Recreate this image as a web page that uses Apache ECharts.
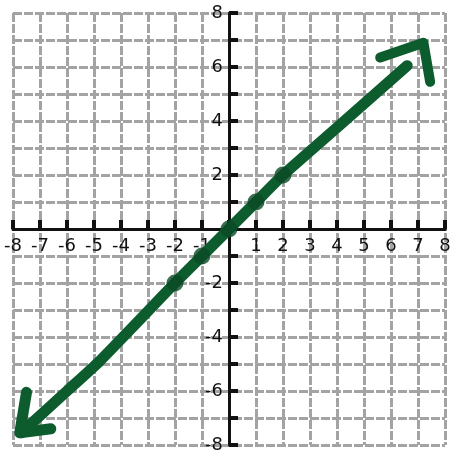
<!DOCTYPE html>
<html>
<head>
<meta charset="utf-8">
<script src="https://cdn.jsdelivr.net/npm/echarts@6/dist/echarts.min.js"></script>
<style>
  html, body { margin: 0; padding: 0; background: #fff; }
  #chart { width: 452px; height: 457px; }
</style>
</head>
<body>
<div id="chart"></div>
<script>
// hand drawn line y = x
const lineX = [-7.7, -6.0, -4.8, -2, -1, 0, 1, 2, 4.05, 6.6];
const lineY = [-7.55, -6.0, -4.9, -2, -1, 0, 1, 2, 3.8, 6.05];
// plotted points
const pointX = [-2, -1, 0, 1, 2];
const pointY = [-2, -1, 0, 1, 2];
// arrow heads (three points each)
const upArrowX = [5.6, 7.2, 7.45];
const upArrowY = [6.35, 6.9, 5.45];
const downArrowX = [-7.5, -7.75, -6.6];
const downArrowY = [-6.05, -7.55, -7.4];
// axis range
const axisMin = -8;
const axisMax = 8;

const green = "#0c5c2e";
const zip = (xs, ys) => xs.map((x, i) => [x, ys[i]]);

const chart = echarts.init(document.getElementById("chart"));

// half of the plot size, to move the axes onto the origin (labels included)
const half = (457 - 13 - 12) / 2;

const gridLine = { color: "#a3a3a3", width: 3, type: [9, 2] };
const axisBlack = { color: "#111", width: 3 };

const option = {
    animation: false,
    grid: { left: 13, right: 7, top: 13, bottom: 12, outerBoundsMode: "none", containLabel: false },
    xAxis: {
        type: "value",
        min: axisMin,
        max: axisMax,
        interval: 1,
        position: "bottom",
        offset: -half,
        axisLine: { onZero: false, lineStyle: axisBlack },
        axisTick: { inside: true, length: 9, lineStyle: { color: "#111", width: 4 } },
        axisLabel: {
            margin: 8,
            color: "#111",
            fontFamily: "DejaVu Sans",
            fontSize: 18,
            showMinLabel: true,
            showMaxLabel: true,
            hideOverlap: false,
            formatter: v => (v === 0 ? "" : String(v)),
        },
        splitLine: { show: true, lineStyle: gridLine },
    },
    yAxis: {
        type: "value",
        min: axisMin,
        max: axisMax,
        interval: 1,
        position: "left",
        offset: -half,
        axisLine: { onZero: false, lineStyle: axisBlack },
        axisTick: { inside: true, length: 9, lineStyle: { color: "#111", width: 4 } },
        axisLabel: {
            margin: 6,
            color: "#111",
            fontFamily: "DejaVu Sans",
            fontSize: 18,
            showMinLabel: true,
            showMaxLabel: true,
            hideOverlap: false,
            formatter: v => (v === 0 || v % 2 !== 0 ? "" : String(v)),
        },
        splitLine: { show: true, lineStyle: gridLine },
    },
    series: [
        {
            type: "line",
            data: zip(lineX, lineY),
            showSymbol: false,
            smooth: 0.2,
            lineStyle: { color: green, width: 11, cap: "round", join: "round" },
            z: 3,
        },
        {
            type: "line",
            data: zip(upArrowX, upArrowY),
            showSymbol: false,
            lineStyle: { color: green, width: 10, cap: "round", join: "round" },
            z: 3,
        },
        {
            type: "line",
            data: zip(downArrowX, downArrowY),
            showSymbol: false,
            lineStyle: { color: green, width: 11, cap: "round", join: "round" },
            z: 3,
        },
        {
            type: "scatter",
            data: zip(pointX, pointY),
            symbolSize: 17,
            itemStyle: { color: "#0a4a24" },
            z: 4,
        },
    ],
};
chart.setOption(option);
</script>
</body>
</html>
